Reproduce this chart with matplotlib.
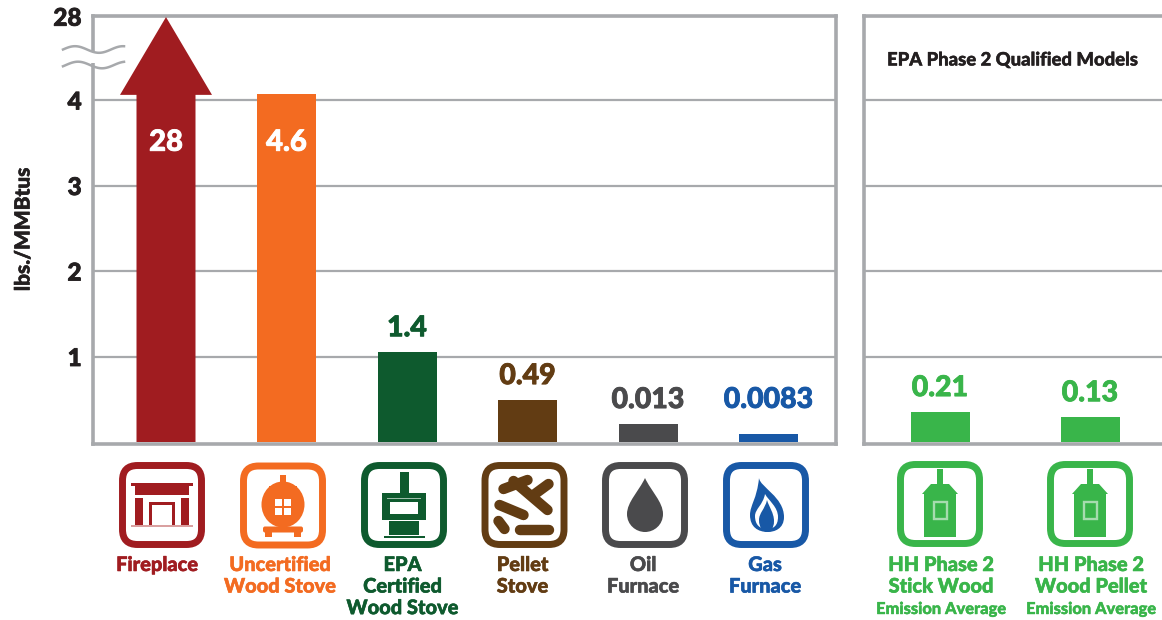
import numpy as np
import matplotlib
matplotlib.use("Agg")
import matplotlib.pyplot as plt
import matplotlib.patheffects as pe
from matplotlib.patches import FancyBboxPatch, Rectangle, Ellipse, PathPatch, Polygon
from matplotlib.path import Path

plt.rcParams['font.family'] = ['Lato', 'DejaVu Sans']

# left panel
categories = ["Fireplace", "Uncertified\nWood Stove", "EPA\nCertified\nWood Stove",
              "Pellet\nStove", "Oil\nFurnace", "Gas\nFurnace"]
bar_heights = [4.97, 4.07, 1.05, 0.49, 0.21, 0.095]
value_labels = ["28", "4.6", "1.4", "0.49", "0.013", "0.0083"]
colors = ["#a01c20", "#f36b21", "#0e5a2e", "#623c13", "#4a4a4c", "#1858a6"]

# right panel
hh_categories = ["HH Phase 2\nStick Wood", "HH Phase 2\nWood Pellet"]
hh_heights = [0.35, 0.29]
hh_labels = ["0.21", "0.13"]
hh_color = "#39b54a"

y_ticks = [1, 2, 3, 4, 4.98]
y_tick_labels = ["1", "2", "3", "4", "28"]

GREY = "#a7a9ac"
DARK = "#231f20"
W, H = 1162, 620
UNIT = 85.5  # px per y unit


def heavy(color, width=0.6):
    return [pe.withStroke(linewidth=width, foreground=color)]


def make_axes(fig, left, right, xlim):
    ax = fig.add_axes([left / W, (H - 444) / H, (right - left) / W, (444 - 15.7) / H])
    ax.set_xlim(*xlim)
    ax.set_ylim(-2 / UNIT, (442 - 15.7) / UNIT)
    ax.set_yticks(y_ticks)
    ax.set_xticks([])
    ax.yaxis.grid(True, color=GREY, linewidth=1.6)
    ax.set_axisbelow(True)
    for spine in ax.spines.values():
        spine.set_color(GREY)
        spine.set_linewidth(2.6)
    return ax


def value_label(ax, x, top, text, color, off=24):
    ax.annotate(text, (x, top), xytext=(0, off * 0.72), textcoords="offset points",
                ha="center", va="center", fontsize=20.5, fontweight="black", color=color,
                path_effects=heavy(color))


def rect(ov, cx, cy, dx, dy, w, h, color, **kw):
    ov.add_patch(Rectangle((cx + dx, cy + dy), w, h, facecolor=color, edgecolor="none", **kw))


def frame(ov, cx, cy, color):
    ov.add_patch(FancyBboxPatch((cx - 39.5, cy - 39.5), 79, 79, boxstyle="round,pad=0,rounding_size=15",
                                facecolor="white", edgecolor=color, linewidth=5))


def icon_fireplace(ov, cx, cy, c):
    frame(ov, cx, cy, c)
    rect(ov, cx, cy, -31, -22.5, 62, 3, c)
    rect(ov, cx, cy, -27, -19, 54, 9, c)
    rect(ov, cx, cy, -27, -7.5, 8, 28, c)
    rect(ov, cx, cy, 19, -7.5, 8, 28, c)
    rect(ov, cx, cy, -13, -3, 26, 3, c)
    rect(ov, cx, cy, -13, -3, 3, 23, c)
    rect(ov, cx, cy, 10, -3, 3, 23, c)
    rect(ov, cx, cy, -31, 20, 62, 2, "#d9a0a0")


def icon_old_stove(ov, cx, cy, c):
    frame(ov, cx, cy, c)
    rect(ov, cx, cy, -3, -31, 6, 14, c)
    ov.add_patch(Ellipse((cx, cy - 1), 43, 46, facecolor=c, edgecolor="none"))
    rect(ov, cx, cy, -14, -20, 28, 5, c)
    for dx in (-8, 1):
        for dy in (-7, 2):
            rect(ov, cx, cy, dx, dy, 7, 7, "white")
    ov.add_patch(FancyBboxPatch((cx - 20, cy + 21), 40, 6, boxstyle="round,pad=0,rounding_size=2",
                                facecolor=c, edgecolor="none"))
    rect(ov, cx, cy, -18, 26, 7, 5, c)
    rect(ov, cx, cy, 11, 26, 7, 5, c)


def icon_epa_stove(ov, cx, cy, c):
    frame(ov, cx, cy, c)
    rect(ov, cx, cy, -4.5, -33, 9, 21, c)
    rect(ov, cx, cy, -22, -12, 44, 27, c)
    rect(ov, cx, cy, -14, -3, 28, 12, "white")
    rect(ov, cx, cy, -17, -7, 34, 1, "#9dbda9")
    rect(ov, cx, cy, -15, 16, 30, 14, c)
    rect(ov, cx, cy, -20.5, 31, 41, 1.5, c)


def icon_pellet(ov, cx, cy, c):
    frame(ov, cx, cy, c)
    logs = [((-21, -16), (3, -25)), ((-11, -24), (23, 5)), ((24, -21), (9, -10)),
            ((-25, 0), (-1, 10)), ((-26, 16), (-20, 24)), ((-5, 25), (24, 25))]
    for a, b in logs:
        ov.plot([cx + a[0], cx + b[0]], [cy + a[1], cy + b[1]], color=c, lw=7.5,
                solid_capstyle="round")


def icon_drop(ov, cx, cy, c):
    frame(ov, cx, cy, c)
    verts = [(0, -27), (6, -14), (18, -3), (18, 9), (18, 20), (9, 27), (0, 27),
             (-9, 27), (-18, 20), (-18, 9), (-18, -3), (-6, -14), (0, -27)]
    codes = [Path.MOVETO] + [Path.CURVE4] * 12
    ov.add_patch(PathPatch(Path([(cx + x, cy + y) for x, y in verts], codes),
                           facecolor=c, edgecolor="none"))


def icon_flame(ov, cx, cy, c):
    frame(ov, cx, cy, c)
    outer = [(-7, -27), (-6, -18), (18, -8), (18, 12), (18, 24), (8, 27), (2, 27),
             (-8, 27), (-16, 22), (-16, 10), (-16, 0), (-9, -6), (-7, -27)]
    inner = [(-1, -11), (3, -4), (12, 2), (12, 12), (12, 21), (7, 24), (1, 24),
             (-6, 24), (-11, 20), (-11, 11), (-11, 4), (-3, 0), (-1, -11)]
    core = [(1, -5), (3, 2), (8, 8), (8, 16), (8, 24), (4, 27), (1, 27),
            (-3, 27), (-7, 23), (-7, 15), (-7, 8), (-1, 4), (1, -5)]
    codes = [Path.MOVETO] + [Path.CURVE4] * 12
    for pts, col in ((outer, c), (inner, "white"), (core, c)):
        ov.add_patch(PathPatch(Path([(cx + x, cy + y) for x, y in pts], codes),
                               facecolor=col, edgecolor="none"))


def icon_hh(ov, cx, cy, c):
    frame(ov, cx, cy, c)
    rect(ov, cx, cy, -3, -35, 6, 16, c)
    ov.add_patch(Polygon([(cx - 9, cy - 20), (cx + 9, cy - 20), (cx + 18, cy - 10), (cx - 18, cy - 10)],
                         facecolor=c, edgecolor="none"))
    rect(ov, cx, cy, -16, -10, 32, 43, c)
    ov.add_patch(Rectangle((cx - 6.5, cy - 2), 13, 17, facecolor="none", edgecolor="#a6dcae", linewidth=1.7))


def main():
    fig = plt.figure(figsize=(W / 100, H / 100), dpi=100)

    # main panel, categories sit 120.5 px apart
    ax = make_axes(fig, 92.7, 836, ((92.7 - 166) / 120.5, (836 - 166) / 120.5))
    ax.tick_params(axis="y", length=0, pad=8)
    ax.set_yticklabels(y_tick_labels, fontsize=17.5, fontweight="black", color=DARK,
                       path_effects=heavy(DARK))
    xs = np.arange(len(categories))
    bar_w = 59 / 120.5
    ax.arrow(xs[0], 0, 0, bar_heights[0], width=bar_w, head_width=92 / 120.5, head_length=0.91,
             length_includes_head=True, facecolor=colors[0], edgecolor="none", zorder=3)
    ax.bar(xs[1:], bar_heights[1:], width=bar_w, color=colors[1:], zorder=3)
    for i in xs:
        if i < 2:
            ax.text(xs[i], 3.5, value_labels[i], ha="center", va="center", fontsize=21,
                    fontweight="black", color="white", zorder=4, path_effects=heavy("white"))
        else:
            off = 34 if i == 5 else 24
            value_label(ax, xs[i], bar_heights[i], value_labels[i], colors[i], off)

    # right panel, 150 px apart
    ax2 = make_axes(fig, 863.5, 1164, ((863.5 - 940) / 150, (1164 - 940) / 150))
    ax2.spines["right"].set_visible(False)
    ax2.tick_params(axis="y", length=0, labelleft=False)
    hh_xs = np.arange(len(hh_categories))
    ax2.bar(hh_xs, hh_heights, width=59 / 150, color=hh_color, zorder=3)
    for i in hh_xs:
        value_label(ax2, hh_xs[i], hh_heights[i], hh_labels[i], hh_color)

    # overlay in pixel coordinates for icons, captions, axis break
    ov = fig.add_axes([0, 0, 1, 1])
    ov.set_xlim(0, W)
    ov.set_ylim(H, 0)
    ov.axis("off")

    ov.add_patch(Rectangle((88, 52), 9, 11, facecolor="white", edgecolor="none"))
    wave_x = np.linspace(63, 124, 80)
    for y0, peak in ((49.5, 75), (65, 78)):
        ov.plot(wave_x, y0 - 3.3 * np.cos((wave_x - peak) / 48 * 2 * np.pi), color=GREY, lw=1.8)

    ov.text(23, 229, "lbs./MMBtus", rotation=90, ha="center", va="center", fontsize=15,
            fontweight="black", color=DARK, path_effects=heavy(DARK, 0.4))
    ov.text(1013, 60, "EPA Phase 2 Qualified Models", ha="center", va="center", fontsize=13.3,
            fontweight="black", color=DARK, path_effects=heavy(DARK, 0.3))

    draw_icons = [icon_fireplace, icon_old_stove, icon_epa_stove, icon_pellet, icon_drop, icon_flame]
    icon_x = [162, 283, 404, 524.5, 645, 766]
    icon_y = [505, 505.5, 505, 505, 505, 505]
    text_x = [157, 280, 402.5, 522.5, 643, 765]
    for i in range(len(categories)):
        draw_icons[i](ov, icon_x[i], icon_y[i], colors[i])
        ov.text(text_x[i], 555, categories[i], ha="center", va="top", fontsize=14.4,
                fontweight="black", color=colors[i], linespacing=1.16,
                path_effects=heavy(colors[i], 0.4))

    for x, tx, name in zip((940, 1090), (941, 1091), hh_categories):
        icon_hh(ov, x, 504, hh_color)
        ov.text(tx, 555, name, ha="center", va="top", fontsize=14.4, fontweight="black",
                color=hh_color, linespacing=1.16, path_effects=heavy(hh_color, 0.4))
        ov.text(tx, 609, "Emission Average", ha="center", va="center", fontsize=11.8,
                fontweight="black", color=hh_color, path_effects=heavy(hh_color, 0.3))

    fig.savefig("out.png", dpi=100)


if __name__ == "__main__":
    main()
